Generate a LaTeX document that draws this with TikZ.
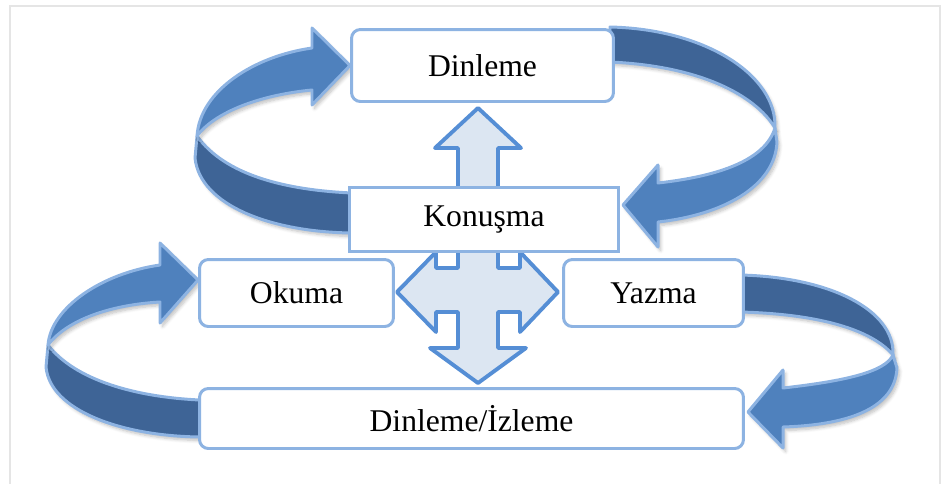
\documentclass[tikz,border=0pt]{standalone}
\usepackage{fontspec}
\setmainfont{Liberation Serif}
\usepackage{xcolor}
\usepackage{tikz}
\usetikzlibrary{positioning,backgrounds,shadows.blur}

\definecolor{boxline}{RGB}{141,179,226}
\definecolor{bandfront}{RGB}{79,129,189}
\definecolor{bandback}{RGB}{62,100,150}
\definecolor{crossfill}{RGB}{220,230,242}
\definecolor{crossline}{RGB}{85,142,213}

\begin{document}
\begin{tikzpicture}[x=0.02cm, y=-0.02cm,
    skill/.style={draw=boxline, line width=1.7pt, fill=white, rounded corners=5pt,
        inner sep=0pt, font=\fontsize{18}{20}\selectfont},
    band/.style={draw=boxline, line width=1.7pt, line join=round,
        blur shadow={shadow xshift=1.5pt, shadow yshift=-2pt, shadow blur steps=6,
            shadow opacity=25}}]
\useasboundingbox (0,0) rectangle (947,484);
\draw[gray!20, line width=0.8pt] (10,484) -- (10,6) -- (940,6) -- (940,484);

\node[skill, minimum width=5.24cm, minimum height=1.44cm] (dinleme) at (482.5,65.5) {Dinleme};
\node[skill, sharp corners, minimum width=5.38cm, minimum height=1.28cm] (konusma) at (484,219.5) {Konuşma};
\node[skill, minimum width=3.88cm, minimum height=1.34cm] (okuma) at (296.5,293) {Okuma};
\node[skill, minimum width=3.6cm, minimum height=1.34cm] (yazma) at (653.5,293) {Yazma};
\node[skill, minimum width=10.88cm, minimum height=1.2cm] (dinleme_izleme) at (471.5,418.5) {Dinleme/İzleme};

\begin{scope}[on background layer]
% upper loop
\draw[band, fill=bandback] (197,136) .. controls (225,175) and (285,190) .. (352,193)
    -- (352,233) .. controls (270,232) and (200,205) .. (195,158) -- cycle;
\draw[band, fill=bandfront] (312,48) .. controls (255,56) and (200,90) .. (197,136)
    .. controls (215,112) and (260,95) .. (312,90) -- (312,105) -- (dinleme.west)
    -- (312,28) -- cycle;
\draw[band, fill=bandback] (610,27) .. controls (705,29) and (777,75) .. (775,128)
    .. controls (755,95) and (700,66) .. (610,62) -- cycle;
\draw[band, fill=bandfront] (658,183) .. controls (720,176) and (765,160) .. (775,128)
    -- (777,142) .. controls (775,187) and (722,215) .. (658,222) -- (658,247)
    -- ([xshift=0.06cm, yshift=0.29cm]konusma.east) -- (658,165) -- cycle;

% lower loop
\draw[band, fill=bandback] (48,345) .. controls (75,380) and (135,397) .. (200,400)
    -- (200,437) .. controls (120,436) and (50,410) .. (46,367) -- cycle;
\draw[band, fill=bandfront] (160,265) .. controls (103,273) and (51,307) .. (48,345)
    .. controls (66,321) and (108,305) .. (160,302) -- (160,323)
    -- ([yshift=0.26cm]okuma.west) -- (160,243) -- cycle;
\draw[band, fill=bandback] (740,275) .. controls (830,277) and (895,310) .. (893,355)
    .. controls (872,330) and (820,314) .. (740,312) -- cycle;
\draw[band, fill=bandfront] (783,388) .. controls (845,381) and (885,372) .. (893,355)
    -- (897,368) .. controls (895,410) and (845,425) .. (783,427) -- (783,448)
    -- ([xshift=0.06cm, yshift=0.13cm]dinleme_izleme.east) -- (783,370) -- cycle;

% four-way arrow
\draw[draw=crossline, fill=crossfill, line width=2.2pt, line join=round]
    (478,108) -- (521,148) -- (498,148) -- (498,268) -- (520,268) -- (520,252)
    -- (558,292) -- (520,332) -- (520,312) -- (498,312) -- (498,348) -- (526,348)
    -- (478,383) -- (430,348) -- (458,348) -- (458,312) -- (436,312) -- (436,332)
    -- (397,292) -- (436,252) -- (436,268) -- (458,268) -- (458,148) -- (435,148) -- cycle;
\end{scope}

\end{tikzpicture}
\end{document}
